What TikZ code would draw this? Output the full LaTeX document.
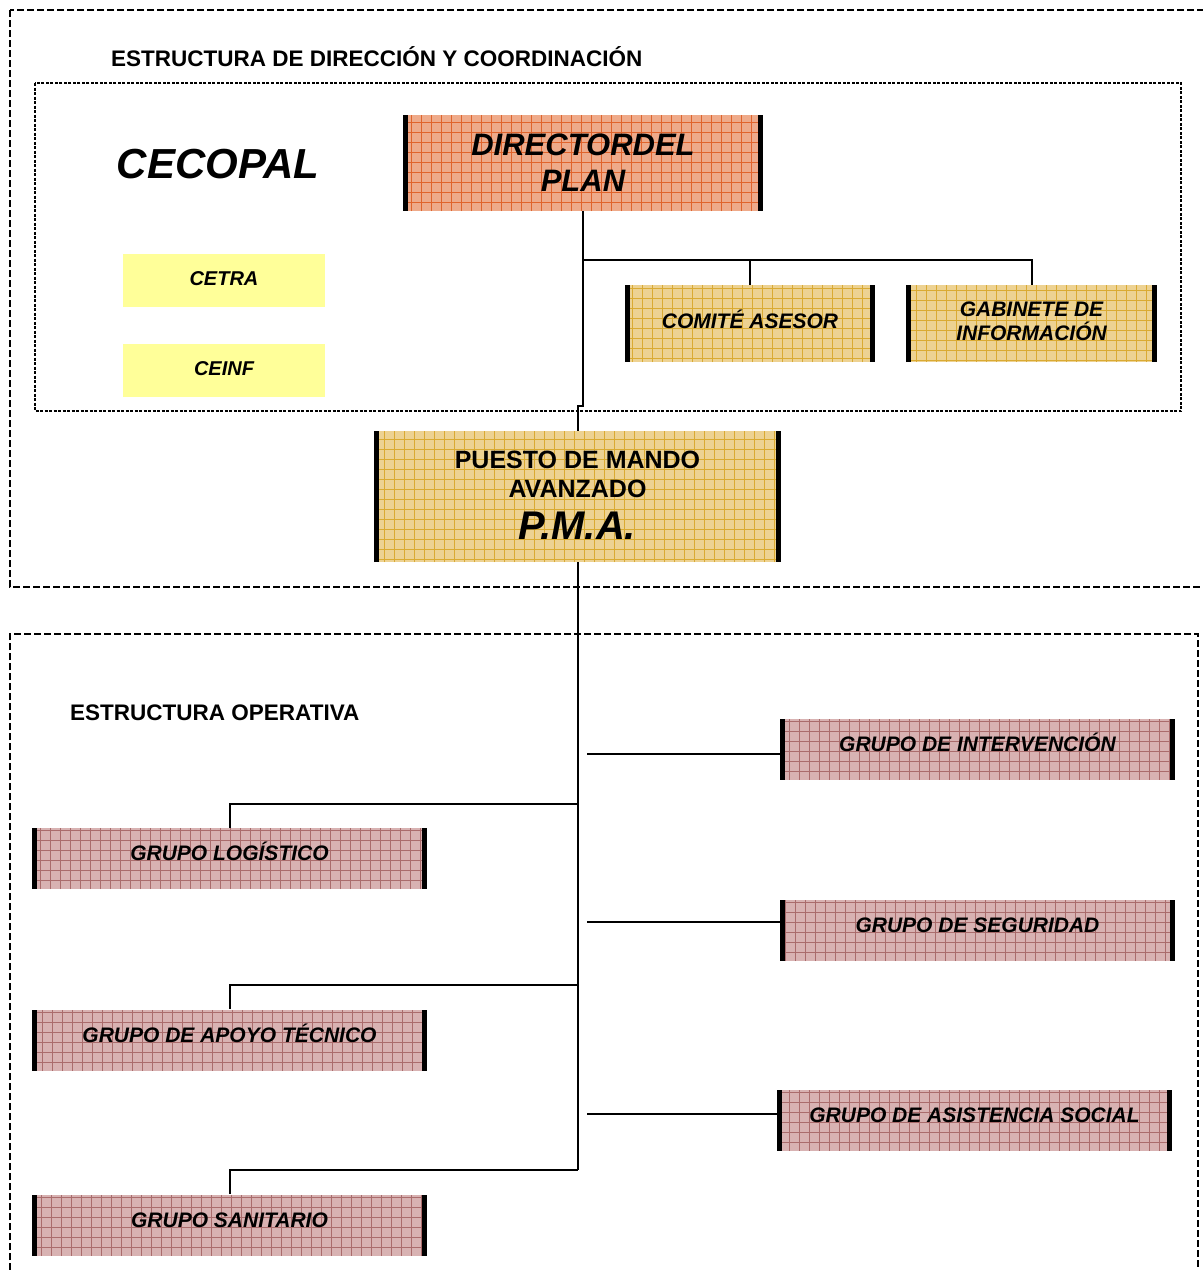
\documentclass[tikz,border=0pt]{standalone}
\usepackage{fontspec}
\setmainfont{Liberation Sans}
\definecolor{salmonfill}{RGB}{238,170,138}
\definecolor{salmongrid}{RGB}{224,100,44}
\definecolor{goldfill}{RGB}{237,210,146}
\definecolor{goldgrid}{RGB}{218,170,50}
\definecolor{mauvefill}{RGB}{216,178,178}
\definecolor{mauvegrid}{RGB}{170,108,108}
\definecolor{paleyellow}{RGB}{255,255,153}
\begin{document}
\begin{tikzpicture}[x=1pt,y=-1pt,
  barbox/.style 2 args={rectangle, inner sep=0pt, align=center, fill=#1,
    path picture={
      \draw[#2, line width=0.65pt, step=10pt] (path picture bounding box.south west) grid (path picture bounding box.north east);
      \fill[black] (path picture bounding box.south west) rectangle ([xshift=5pt]path picture bounding box.north west);
      \fill[black] ([xshift=-5pt]path picture bounding box.south east) rectangle (path picture bounding box.north east);
    }},
  salmonbox/.style={barbox={salmonfill}{salmongrid}},
  goldbox/.style={barbox={goldfill}{goldgrid}},
  mauvebox/.style={barbox={mauvefill}{mauvegrid}, minimum width=395pt, minimum height=61pt,
    font=\bfseries\itshape\fontsize{21}{24}\selectfont, text height=15pt, text depth=11pt},
  yellowbox/.style={rectangle, inner sep=0pt, fill=paleyellow, minimum width=202pt, minimum height=53pt,
    font=\bfseries\itshape\fontsize{20}{23}\selectfont, text height=14pt, text depth=5pt},
  conn/.style={draw=black, line width=2pt},
  outerdash/.style={draw=black, line width=2.2pt, dash pattern=on 7pt off 3pt},
  innerdash/.style={draw=black, line width=1.4pt, dash pattern=on 3pt off 1.5pt},
  titletext/.style={inner sep=0pt, anchor=base west, font=\bfseries\fontsize{22.5}{27}\selectfont}
]
\useasboundingbox (0,0) rectangle (1203,1270);
\fill[white] (0,0) rectangle (1203,1270);

% dashed frames
\draw[outerdash] (10,10) rectangle (1215,587);
\draw[outerdash] (10,1290) -- (10,634) -- (1198,634) -- (1198,1290);
\draw[innerdash] (35,83) rectangle (1181,411);

% titles
\node[titletext] (t1) at (111,66) {ESTRUCTURA DE DIRECCIÓN Y COORDINACIÓN};
\node[titletext] (t2) at (70,720) {ESTRUCTURA OPERATIVA};
\node[inner sep=0pt, anchor=base, font=\bfseries\itshape\fontsize{42}{48}\selectfont] (cecopal) at (218,178) {CECOPAL};

% upper boxes
\node[salmonbox, minimum width=360pt, minimum height=96pt,
  font=\bfseries\itshape\fontsize{31}{36}\selectfont] (dir) at (583,163) {DIRECTORDEL\\PLAN};
\node[goldbox, minimum width=250pt, minimum height=77pt,
  font=\bfseries\itshape\fontsize{21}{24}\selectfont, text height=15pt, text depth=5pt] (com) at (750,323.5) {COMITÉ ASESOR};
\node[goldbox, minimum width=251pt, minimum height=77pt,
  font=\bfseries\itshape\fontsize{21}{24}\selectfont, text depth=5pt] (gab) at (1031.5,323.5) {GABINETE DE\\INFORMACIÓN};
\node[yellowbox] (cetra) at (224,280.5) {CETRA};
\node[yellowbox] (ceinf) at (224,370.5) {CEINF};
\node[goldbox, minimum width=407pt, minimum height=131pt,
  font=\bfseries\fontsize{25}{29}\selectfont, text height=85pt] (pma) at (577.5,496.5)
  {PUESTO DE MANDO\\AVANZADO\\[13pt]{\itshape\fontsize{40}{40}\selectfont P.M.A.}};

% groups
\node[mauvebox] (interv) at (977.5,749) {GRUPO DE INTERVENCIÓN};
\node[mauvebox] (logis) at (229.5,858.5) {GRUPO LOGÍSTICO};
\node[mauvebox] (segur) at (977.5,930.5) {GRUPO DE SEGURIDAD};
\node[mauvebox] (apoyo) at (229.5,1040) {GRUPO DE APOYO TÉCNICO};
\node[mauvebox] (asist) at (974.5,1120) {GRUPO DE ASISTENCIA SOCIAL};
\node[mauvebox] (sanit) at (229.5,1225) {GRUPO SANITARIO};

% connectors upper
\coordinate (j1) at (583,406);
\coordinate (j2) at (577.5,406);
\coordinate (b0) at (583,260);
\draw[conn] (dir.south) -- (j1) -- (j2) -- (pma.north);
\draw[conn] (b0) -| (gab.north);
\draw[conn] (com.north) -- (com.north |- b0);

% trunk
\coordinate (tend) at (577.5,1170);
\coordinate (tl1) at (577.5,804);
\coordinate (tl2) at (577.5,985);
\coordinate (tr1) at (587,754);
\coordinate (tr2) at (587,922);
\coordinate (tr3) at (587,1114);
\draw[conn] (pma.south) -- (tend);
\draw[conn] (tl1) -| (logis.north);
\draw[conn] (tl2) -| (apoyo.north);
\draw[conn] (tend) -| (sanit.north);
\draw[conn] (tr1) -- (tr1 -| interv.west);
\draw[conn] (tr2) -- (tr2 -| segur.west);
\draw[conn] (tr3) -- (tr3 -| asist.west);
\end{tikzpicture}
\end{document}
